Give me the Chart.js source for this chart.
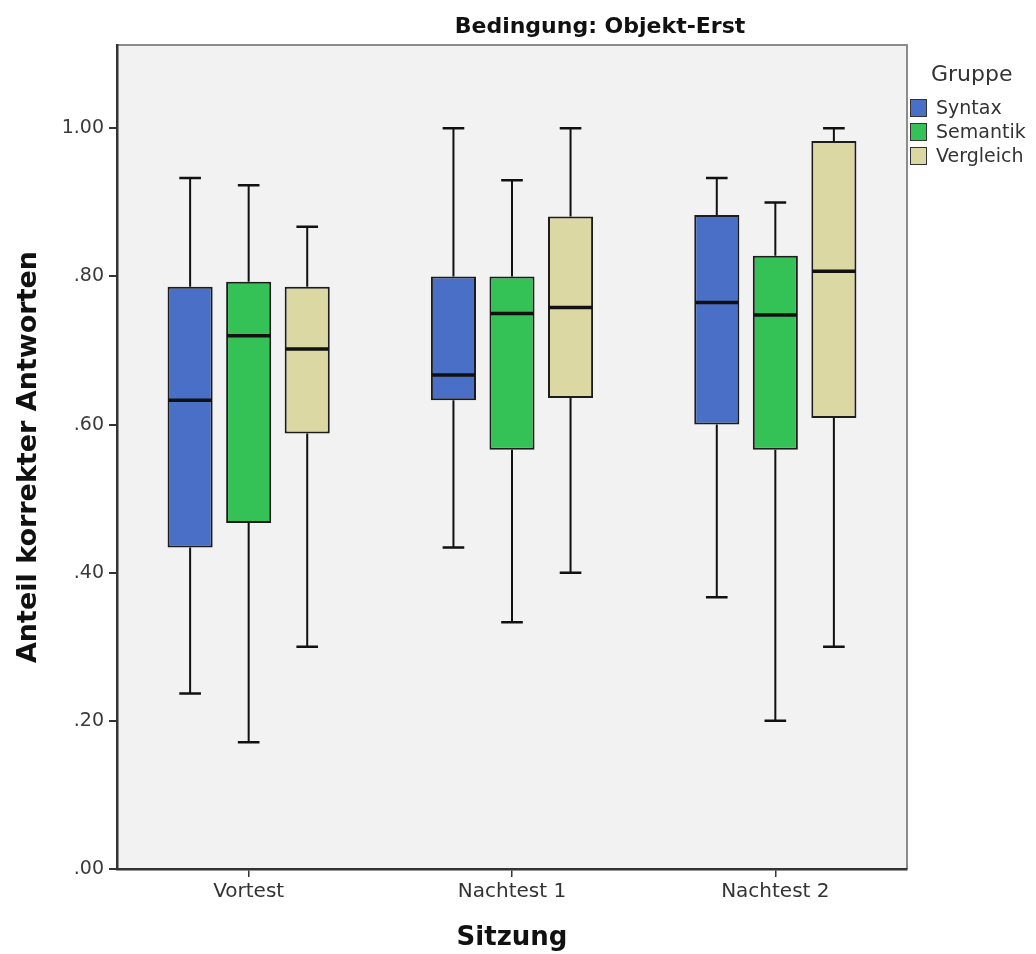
<!DOCTYPE html>
<html>
<head>
<meta charset="utf-8">
<script src="https://cdn.jsdelivr.net/npm/chart.js@4/dist/chart.umd.min.js"></script>
<style>
  body { margin: 0; background: #ffffff; }
  canvas { display: block; }
</style>
</head>
<body>
<canvas id="boxChart" width="1036" height="954"></canvas>
<script>
// Data (proportion of correct answers)
const sessions = ['Vortest', 'Nachtest 1', 'Nachtest 2'];
const groups = ['Syntax', 'Semantik', 'Vergleich'];
const groupColors = ['#4a6fc6', '#34c257', '#dcd8a4'];

const syntaxMin = [0.237, 0.434, 0.367];
const syntaxQ1 = [0.434, 0.633, 0.600];
const syntaxMedian = [0.633, 0.667, 0.765];
const syntaxQ3 = [0.786, 0.800, 0.883];
const syntaxMax = [0.933, 1.000, 0.933];

const semantikMin = [0.171, 0.333, 0.200];
const semantikQ1 = [0.467, 0.566, 0.566];
const semantikMedian = [0.720, 0.750, 0.748];
const semantikQ3 = [0.793, 0.800, 0.828];
const semantikMax = [0.923, 0.930, 0.900];

const vergleichMin = [0.300, 0.400, 0.300];
const vergleichQ1 = [0.588, 0.636, 0.609];
const vergleichMedian = [0.702, 0.758, 0.807];
const vergleichQ3 = [0.786, 0.881, 0.983];
const vergleichMax = [0.867, 1.000, 1.000];

const yTicks = [0, 0.2, 0.4, 0.6, 0.8, 1.0];

const stats = [
    { min: syntaxMin, q1: syntaxQ1, median: syntaxMedian, q3: syntaxQ3, max: syntaxMax },
    { min: semantikMin, q1: semantikQ1, median: semantikMedian, q3: semantikQ3, max: semantikMax },
    { min: vergleichMin, q1: vergleichQ1, median: vergleichMedian, q3: vergleichQ3, max: vergleichMax }
];

// boxes are floating bars from Q1 to Q3
const datasets = groups.map((name, i) => ({
    label: name,
    data: stats[i].q1.map((q1, j) => [q1, stats[i].q3[j]]),
    backgroundColor: groupColors[i],
    borderColor: '#1c1c1c',
    borderWidth: 2,
    borderSkipped: false,
    categoryPercentage: 0.667,
    barPercentage: 0.77
}));

// plot background and frame
const framePlugin = {
    id: 'frame',
    beforeDraw(chart) {
        const { ctx, chartArea: a } = chart;
        ctx.save();
        ctx.fillStyle = '#f2f2f2';
        ctx.fillRect(a.left, a.top, a.right - a.left, a.bottom - a.top);
        ctx.strokeStyle = '#8c8c8c';
        ctx.lineWidth = 2;
        ctx.beginPath();
        ctx.moveTo(a.left, a.top);
        ctx.lineTo(a.right, a.top);
        ctx.lineTo(a.right, a.bottom);
        ctx.stroke();
        ctx.restore();
    }
};

// whiskers, caps and median lines
const boxPlugin = {
    id: 'whiskers',
    afterDatasetsDraw(chart) {
        const { ctx } = chart;
        const y = chart.scales.y;
        ctx.save();
        ctx.strokeStyle = '#111111';
        stats.forEach((s, i) => {
            const meta = chart.getDatasetMeta(i);
            meta.data.forEach((bar, j) => {
                const x = bar.x;
                const half = bar.width / 2;
                const cap = bar.width * 0.24;
                ctx.lineWidth = 2;
                ctx.beginPath();
                ctx.moveTo(x, y.getPixelForValue(s.q3[j]));
                ctx.lineTo(x, y.getPixelForValue(s.max[j]));
                ctx.moveTo(x, y.getPixelForValue(s.q1[j]));
                ctx.lineTo(x, y.getPixelForValue(s.min[j]));
                ctx.stroke();
                ctx.lineWidth = 2.5;
                ctx.beginPath();
                ctx.moveTo(x - cap, y.getPixelForValue(s.max[j]));
                ctx.lineTo(x + cap, y.getPixelForValue(s.max[j]));
                ctx.moveTo(x - cap, y.getPixelForValue(s.min[j]));
                ctx.lineTo(x + cap, y.getPixelForValue(s.min[j]));
                ctx.stroke();
                ctx.lineWidth = 3.5;
                ctx.beginPath();
                ctx.moveTo(x - half + 1, y.getPixelForValue(s.median[j]));
                ctx.lineTo(x + half - 1, y.getPixelForValue(s.median[j]));
                ctx.stroke();
            });
        });
        ctx.restore();
    }
};

// chart title and legend drawn at the SPSS positions
const labelPlugin = {
    id: 'labels',
    afterDraw(chart) {
        const { ctx } = chart;
        ctx.save();
        ctx.fillStyle = '#111111';
        ctx.font = 'bold 22px "DejaVu Sans"';
        ctx.textAlign = 'center';
        ctx.textBaseline = 'alphabetic';
        ctx.fillText('Bedingung: Objekt-Erst', 600, 33);

        ctx.textAlign = 'left';
        ctx.fillStyle = '#333333';
        ctx.font = '22px "DejaVu Sans"';
        ctx.fillText('Gruppe', 931, 81);
        ctx.font = '19px "DejaVu Sans"';
        chart.data.datasets.forEach((ds, i) => {
            const cy = 108 + i * 24;
            ctx.fillStyle = ds.backgroundColor;
            ctx.fillRect(910, cy - 9, 17, 18);
            ctx.strokeStyle = '#333333';
            ctx.lineWidth = 1;
            ctx.strokeRect(910.5, cy - 8.5, 16, 17);
            ctx.fillStyle = '#333333';
            ctx.textBaseline = 'middle';
            ctx.fillText(ds.label, 936, cy + 1);
        });
        ctx.restore();
    }
};

const ctx = document.getElementById('boxChart').getContext('2d');
const boxChart = new Chart(ctx, {
    type: 'bar',
    data: {
        labels: sessions,
        datasets: datasets
    },
    options: {
        responsive: false,
        animation: false,
        devicePixelRatio: 1,
        layout: {
            padding: { left: 0, top: 45, right: 129, bottom: 0 }
        },
        plugins: {
            legend: { display: false },
            tooltip: { enabled: false }
        },
        scales: {
            x: {
                offset: true,
                grid: {
                    offset: false,
                    drawOnChartArea: false,
                    drawTicks: true,
                    tickLength: 8,
                    color: '#333333',
                    lineWidth: 1.5
                },
                border: { display: true, color: '#333333', width: 2.5 },
                ticks: {
                    color: '#333333',
                    padding: 3,
                    font: { family: '"DejaVu Sans"', size: 20 }
                },
                title: {
                    display: true,
                    text: 'Sitzung',
                    color: '#111111',
                    padding: { top: 0, bottom: 0 },
                    font: { family: '"DejaVu Sans"', size: 26, weight: 'bold' }
                },
                afterFit(scale) { scale.height = 85; }
            },
            y: {
                min: 0,
                max: 1.1125,
                afterBuildTicks(scale) {
                    scale.ticks = yTicks.map(v => ({ value: v }));
                },
                grid: {
                    drawOnChartArea: false,
                    drawTicks: true,
                    tickLength: 8,
                    color: '#333333',
                    lineWidth: 2
                },
                border: { display: true, color: '#333333', width: 2.5 },
                ticks: {
                    color: '#3a3a3a',
                    padding: 5,
                    font: { family: '"DejaVu Sans"', size: 19 },
                    callback: v => v.toFixed(2).replace(/^0/, '')
                },
                title: {
                    display: true,
                    text: 'Anteil korrekter Antworten',
                    color: '#111111',
                    padding: { top: 13, bottom: 0 },
                    font: { family: '"DejaVu Sans"', size: 27, weight: 'bold' }
                },
                afterFit(scale) { scale.width = 117; }
            }
        }
    },
    plugins: [framePlugin, boxPlugin, labelPlugin]
});
</script>
</body>
</html>
